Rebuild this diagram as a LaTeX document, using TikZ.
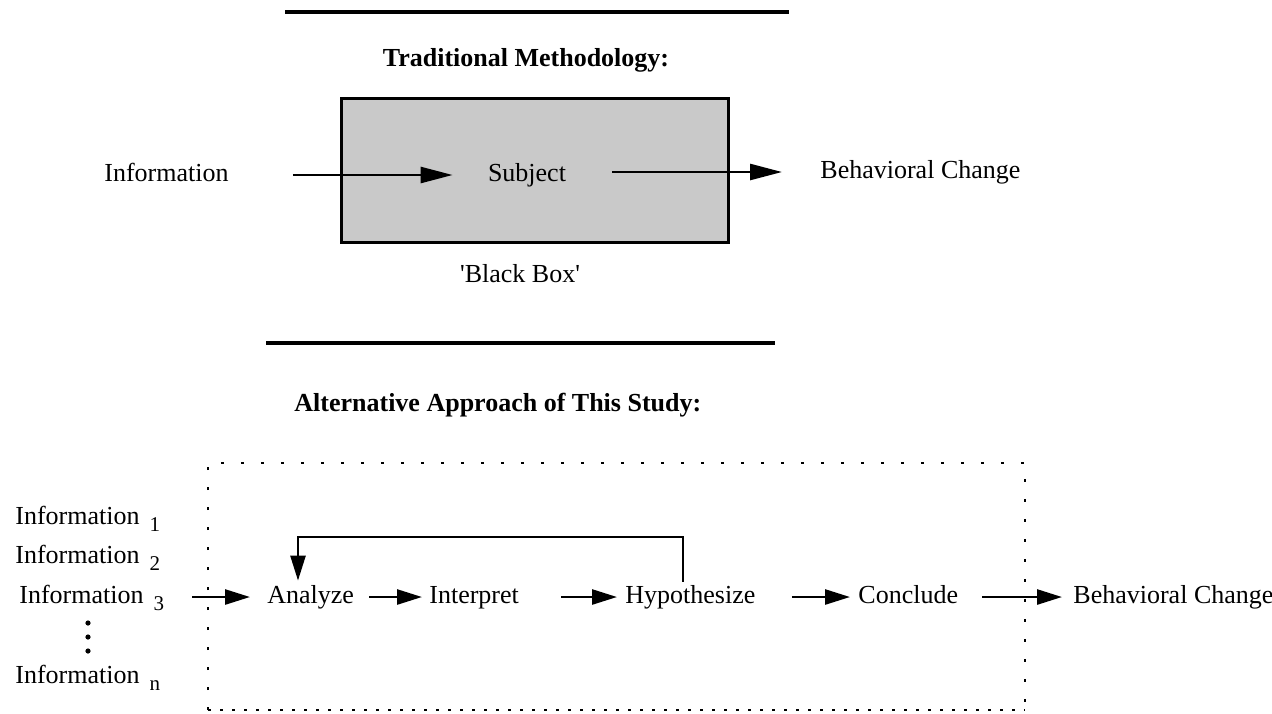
\documentclass[tikz,border=0pt]{standalone}
\usepackage{fontspec}
\setmainfont{Liberation Serif}
\usetikzlibrary{arrows.meta}
\newcommand{\infsub}[1]{Information\hspace{5pt}{\fontsize{10.5}{11}\selectfont\raisebox{-3.7pt}{#1}}}
\tikzset{
  txt/.style={font=\fontsize{13}{15}\selectfont, inner sep=2pt, text height=9pt, text depth=3pt},
  ttl/.style={font=\fontsize{13}{15}\selectfont\bfseries, inner sep=2pt},
  bigarr/.style={line width=1.3pt, -{Triangle[length=16pt,width=8pt]}},
  arr/.style={line width=1.3pt, -{Triangle[length=12.5pt,width=7.5pt]}},
  sep/.style={line width=2pt},
  blackbox/.style={draw, line width=1.5pt, fill=black!21, minimum width=193.5pt, minimum height=72pt, inner sep=0pt},
  dotside/.style={line width=1.2pt, dash pattern=on 1.4pt off 8.6pt},
  dotbottom/.style={line width=1.2pt, dash pattern=on 1.4pt off 4.6pt}
}
\begin{document}
\begin{tikzpicture}[x=0.5pt,y=-0.5pt]
\useasboundingbox (0,0) rectangle (1272,713);
% ---- Traditional methodology ----
\draw[sep] (285,12) -- (789,12);
\node[ttl] (title1) at (526,60) {Traditional Methodology:};
\node[blackbox] (box) at (534.5,170) {};
\node[txt] (subj) at (527,175) {Subject};
\node[txt, anchor=west] (info) at (100,175) {Information};
\node[txt, anchor=west] (beh1) at (816,172) {Behavioral Change};
\node[txt] (bb) at (520,276) {\textquotesingle Black Box\textquotesingle};
\draw[bigarr, shorten <=30pt, shorten >=15.5pt] (info.east |- subj) -- (subj.west);
\draw[bigarr, shorten <=21pt, shorten >=17pt] (subj.east |- beh1) -- (beh1.west);
% ---- Alternative approach ----
\draw[sep] (266,343) -- (775,343);
\node[ttl, anchor=west] (title2) at (290,405) {Alternative Approach of This Study:};
\draw[dotside] (208,710) -- (208,463) -- (1025,463) -- (1025,710);
\draw[dotbottom] (208,710) -- (1025,710);
\node[txt, anchor=west] (i1) at (11,518) {\infsub{1}};
\node[txt, anchor=west] (i2) at (11,557) {\infsub{2}};
\node[txt, anchor=west] (i3) at (15,597) {\infsub{3}};
\node[txt, anchor=west] (in) at (11,677) {\infsub{n}};
\foreach \yy in {623,637,651} \fill (88,\yy) circle (2.6);
\node[txt, anchor=west] (ana) at (263,597) {Analyze};
\node[txt, anchor=west] (intp) at (425,597) {Interpret};
\node[txt, anchor=west] (hyp) at (621,597) {Hypothesize};
\node[txt, anchor=west] (conc) at (854,597) {Conclude};
\node[txt, anchor=west] (beh2) at (1069,597) {Behavioral Change};
\coordinate (src) at (192,597);
\coordinate (fbtop) at (0,537);
\draw[arr, shorten >=6.5pt] (src) -- (ana.west);
\draw[arr, shorten <=5.5pt, shorten >=1.5pt] (ana.east) -- (intp.west);
\draw[arr, shorten <=19pt, shorten >=2pt] (intp.east) -- (hyp.west);
\draw[arr, shorten <=16pt, shorten >=2pt] (hyp.east) -- (conc.west);
\draw[arr, shorten <=10pt, shorten >=3.5pt] (conc.east) -- (beh2.west);
\draw[arr, line cap=rect] ([xshift=31pt]hyp.north west) -- ([xshift=31pt]hyp.north west |- fbtop)
  -| ([xshift=17.5pt]ana.north west);
\end{tikzpicture}
\end{document}
